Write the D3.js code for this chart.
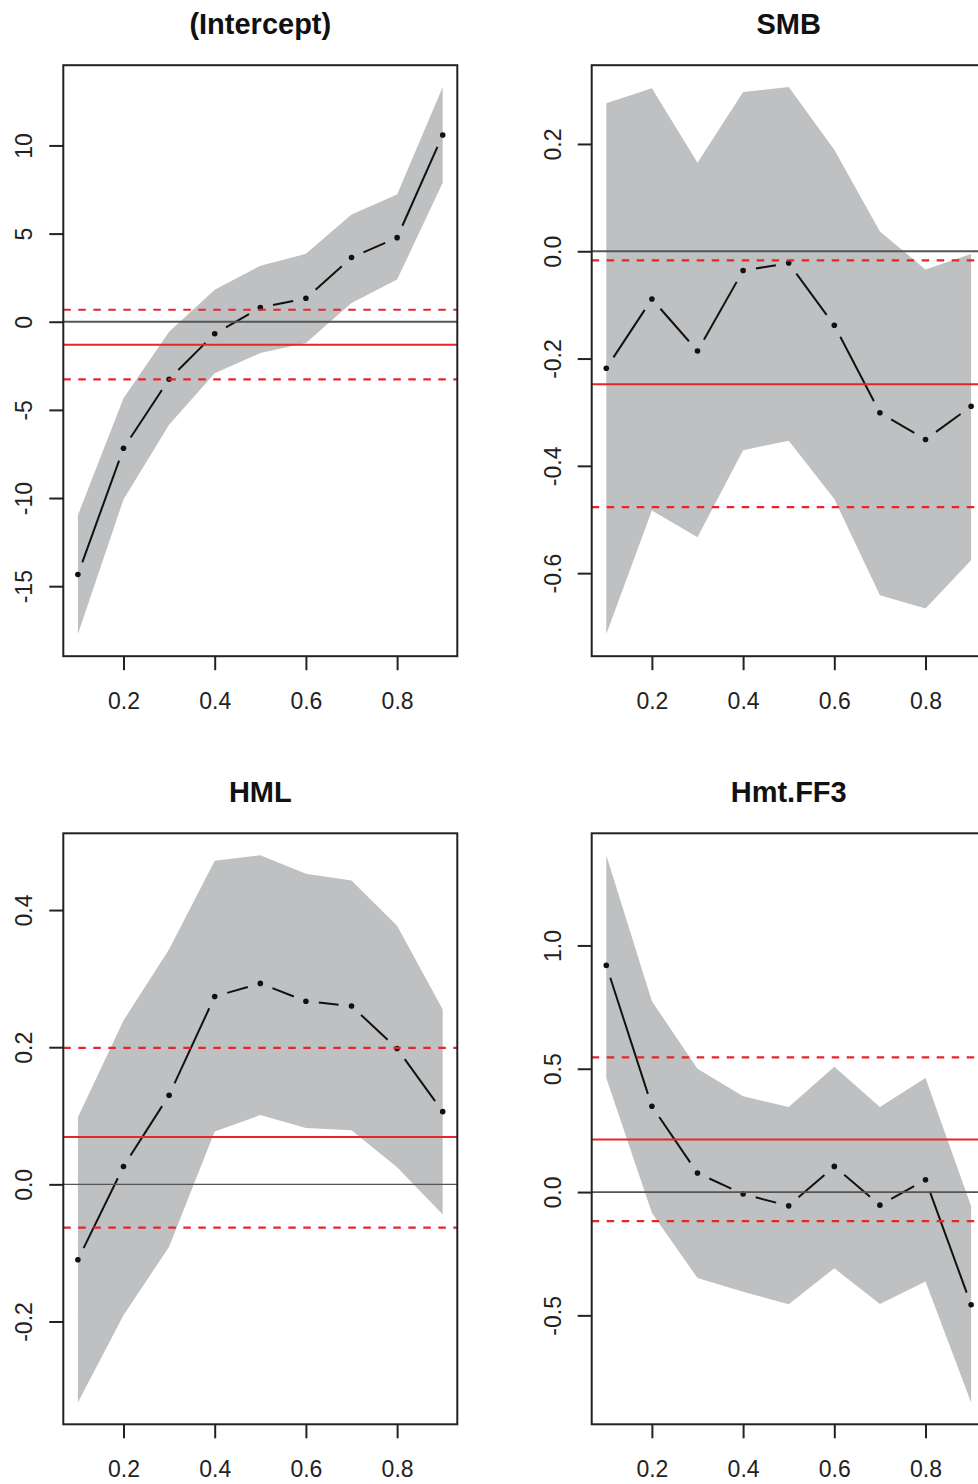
<!DOCTYPE html>
<html>
<head>
<meta charset="utf-8">
<script src="https://cdn.jsdelivr.net/npm/d3@7"></script>
<style>
  html, body { margin: 0; padding: 0; background: #fff; }
  svg { display: block; }
  text { font-family: "Liberation Sans", Arial, sans-serif; }
</style>
</head>
<body>
<svg id="chart" width="978" height="1484"></svg>
<script>
// ---- data ----
const taus = [0.1, 0.2, 0.3, 0.4, 0.5, 0.6, 0.7, 0.8, 0.9];
const xTicks = [0.2, 0.4, 0.6, 0.8];
const xTickLabels = ["0.2", "0.4", "0.6", "0.8"];

const panelTitles = ["(Intercept)", "SMB", "HML", "Hmt.FF3"];

const interceptCoef  = [-14.34, -7.18, -3.26, -0.68, 0.80, 1.33, 3.64, 4.77, 10.59];
const interceptUpper = [-10.97, -4.34, -0.57, 1.82, 3.18, 3.85, 6.08, 7.22, 13.31];
const interceptLower = [-17.73, -10.08, -5.85, -2.92, -1.78, -1.21, 1.06, 2.39, 7.88];
const interceptOls   = [-1.31, -3.27, 0.68];   // estimate, lower, upper
const interceptTicks = [-15, -10, -5, 0, 5, 10];
const interceptTickLabels = ["-15", "-10", "-5", "0", "5", "10"];

const smbCoef  = [-0.218, -0.089, -0.186, -0.036, -0.022, -0.138, -0.301, -0.351, -0.289];
const smbUpper = [0.276, 0.304, 0.165, 0.297, 0.306, 0.189, 0.037, -0.034, -0.005];
const smbLower = [-0.714, -0.483, -0.533, -0.371, -0.353, -0.462, -0.641, -0.666, -0.576];
const smbOls   = [-0.248, -0.477, -0.017];
const smbTicks = [-0.6, -0.4, -0.2, 0.0, 0.2];
const smbTickLabels = ["-0.6", "-0.4", "-0.2", "0.0", "0.2"];

const hmlCoef  = [-0.110, 0.026, 0.130, 0.274, 0.293, 0.267, 0.260, 0.198, 0.106];
const hmlUpper = [0.098, 0.239, 0.343, 0.472, 0.480, 0.453, 0.443, 0.377, 0.255];
const hmlLower = [-0.318, -0.191, -0.091, 0.077, 0.101, 0.082, 0.079, 0.025, -0.044];
const hmlOls   = [0.069, -0.063, 0.199];
const hmlTicks = [-0.2, 0.0, 0.2, 0.4];
const hmlTickLabels = ["-0.2", "0.0", "0.2", "0.4"];

const hmtCoef  = [0.919, 0.348, 0.077, -0.008, -0.056, 0.104, -0.053, 0.050, -0.457];
const hmtUpper = [1.366, 0.774, 0.500, 0.388, 0.345, 0.508, 0.345, 0.463, -0.058];
const hmtLower = [0.463, -0.085, -0.349, -0.404, -0.455, -0.309, -0.454, -0.363, -0.853];
const hmtOls   = [0.213, -0.118, 0.546];
const hmtTicks = [-0.5, 0.0, 0.5, 1.0];
const hmtTickLabels = ["-0.5", "0.0", "0.5", "1.0"];

const panels = [
  { title: panelTitles[0], coef: interceptCoef, lower: interceptLower, upper: interceptUpper, ols: interceptOls, ticks: interceptTicks, labels: interceptTickLabels },
  { title: panelTitles[1], coef: smbCoef, lower: smbLower, upper: smbUpper, ols: smbOls, ticks: smbTicks, labels: smbTickLabels },
  { title: panelTitles[2], coef: hmlCoef, lower: hmlLower, upper: hmlUpper, ols: hmlOls, ticks: hmlTicks, labels: hmlTickLabels },
  { title: panelTitles[3], coef: hmtCoef, lower: hmtLower, upper: hmtUpper, ols: hmtOls, ticks: hmtTicks, labels: hmtTickLabels }
];

// ---- layout ----
const colLeft = [63.3, 591.7];
const rowTop = [65.2, 833.3];
const plotW = 394, plotH = 591;

const svg = d3.select("#chart");

function rRange(arr) {
  const lo = d3.min(arr), hi = d3.max(arr);
  const pad = (hi - lo) * 0.04;
  return [lo - pad, hi + pad];
}

panels.forEach((p, i) => {
  const left = colLeft[i % 2], top = rowTop[Math.floor(i / 2)];
  const g = svg.append("g").attr("transform", `translate(${left},${top})`);

  const xr = rRange(taus);
  const x = d3.scaleLinear().domain(xr).range([0, plotW]);
  const y = d3.scaleLinear().domain(rRange(p.lower.concat(p.upper))).range([plotH, 0]);

  const clipId = "clip" + i;
  g.append("clipPath").attr("id", clipId)
    .append("rect").attr("x", 0).attr("y", 0).attr("width", plotW).attr("height", plotH);
  const inner = g.append("g").attr("clip-path", `url(#${clipId})`);

  // confidence band
  const band = d3.area()
    .x((d, k) => x(taus[k]))
    .y0((d, k) => y(p.lower[k]))
    .y1((d, k) => y(p.upper[k]));
  inner.append("path").datum(taus).attr("d", band).attr("fill", "#bfc0c2");

  // point estimates: type "b" (segments with gaps at points)
  const pts = taus.map((t, k) => [x(t), y(p.coef[k])]);
  const gap = 13;
  for (let k = 0; k < pts.length - 1; k++) {
    const [x0, y0] = pts[k], [x1, y1] = pts[k + 1];
    const dx = x1 - x0, dy = y1 - y0, len = Math.hypot(dx, dy);
    if (len <= 2 * gap + 2) continue;
    const ux = dx / len, uy = dy / len;
    inner.append("line")
      .attr("x1", x0 + ux * gap).attr("y1", y0 + uy * gap)
      .attr("x2", x1 - ux * gap).attr("y2", y1 - uy * gap)
      .attr("stroke", "#111").attr("stroke-width", 2);
  }
  inner.selectAll("circle.pt").data(pts).join("circle")
    .attr("class", "pt")
    .attr("cx", d => d[0]).attr("cy", d => d[1]).attr("r", 2.8)
    .attr("fill", "#111");

  // zero line
  inner.append("line")
    .attr("x1", 0).attr("x2", plotW)
    .attr("y1", y(0)).attr("y2", y(0))
    .attr("stroke", "#555").attr("stroke-width", i === 2 ? 1.1 : 1.8);

  // OLS lines
  inner.append("line")
    .attr("x1", 0).attr("x2", plotW)
    .attr("y1", y(p.ols[0])).attr("y2", y(p.ols[0]))
    .attr("stroke", "#e5262b").attr("stroke-width", 2);
  [p.ols[1], p.ols[2]].forEach(v => {
    inner.append("line")
      .attr("x1", 0).attr("x2", plotW)
      .attr("y1", y(v)).attr("y2", y(v))
      .attr("stroke", "#e5262b").attr("stroke-width", 2.2)
      .attr("stroke-dasharray", "7.5,7.5");
  });

  // box
  g.append("rect").attr("x", 0).attr("y", 0).attr("width", plotW).attr("height", plotH)
    .attr("fill", "none").attr("stroke", "#222").attr("stroke-width", 2);

  // x axis
  const xAxis = d3.axisBottom(x).tickValues(xTicks)
    .tickFormat((d, k) => xTickLabels[k]).tickSize(14).tickPadding(22);
  const xa = g.append("g").attr("transform", `translate(0,${plotH})`).call(xAxis);
  xa.select(".domain").remove();
  xa.selectAll(".tick line").attr("stroke", "#222").attr("stroke-width", 2);
  xa.selectAll(".tick text").attr("font-size", 23).attr("fill", "#222")
    .attr("font-family", "'Liberation Sans', Arial, sans-serif")
    .attr("dy", 0).attr("y", 52.5);

  // y axis
  const yAxis = d3.axisLeft(y).tickValues(p.ticks)
    .tickFormat((d, k) => p.labels[k]).tickSize(14);
  const ya = g.append("g").call(yAxis);
  ya.select(".domain").remove();
  ya.selectAll(".tick line").attr("stroke", "#222").attr("stroke-width", 2);
  ya.selectAll(".tick text")
    .attr("font-size", 23).attr("fill", "#222")
    .attr("font-family", "'Liberation Sans', Arial, sans-serif")
    .attr("x", null).attr("dy", null)
    .attr("text-anchor", "middle")
    .attr("transform", "translate(-31,0) rotate(-90)");

  // title
  g.append("text")
    .attr("x", plotW / 2).attr("y", -31)
    .attr("text-anchor", "middle")
    .attr("font-size", 29).attr("font-weight", "bold").attr("fill", "#111")
    .text(p.title);
});
</script>
</body>
</html>
